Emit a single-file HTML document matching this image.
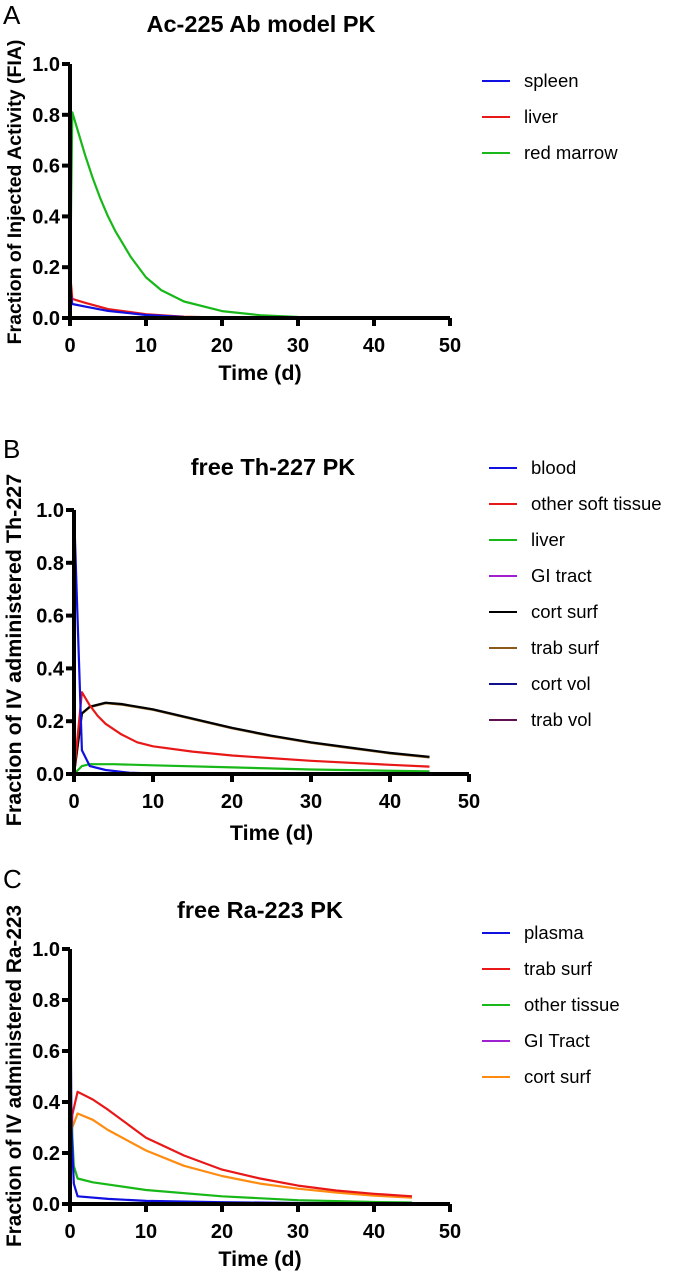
<!DOCTYPE html>
<html><head><meta charset="utf-8"><style>
html,body{margin:0;padding:0;background:#fff;}
svg{display:block;}
text{font-family:"Liberation Sans",Arial,sans-serif;}
.tk{font-weight:bold;font-size:20px;}
.ax{font-weight:bold;font-size:21.5px;}
.ttl{font-weight:bold;font-size:23.5px;}
.lg{font-size:18.5px;}
</style></head><body>
<svg id="fig" width="685" height="1272" viewBox="0 0 685 1272" xmlns="http://www.w3.org/2000/svg"></svg>
<script>
// ---- Panel A data ----
const aNames=["spleen","liver","red marrow"];
const aColors=["#1010e0","#e81818","#18b818"];
const aSpleenT=[0,0.3,2,5,10,15,20,30,42];
const aSpleenV=[0.12,0.055,0.045,0.028,0.012,0.004,0.001,0,0];
const aLiverT=[0,0.3,2,5,10,15,20,30,42];
const aLiverV=[0.18,0.075,0.06,0.035,0.015,0.005,0.002,0,0];
const aMarrowT=[0,0.15,0.3,1,2,3,4,5,6,8,10,12,15,20,25,30,40];
const aMarrowV=[0.05,0.45,0.81,0.74,0.64,0.55,0.47,0.40,0.34,0.24,0.16,0.11,0.065,0.027,0.011,0.004,0];
// ---- Panel B data ----
const bNames=["blood","other soft tissue","liver","GI tract","cort surf","trab surf","cort vol","trab vol"];
const bColors=["#1010e0","#e81818","#18b818","#a020d0","#000000","#8b5a1a","#10108a","#601050"];
const bBloodT=[0,1,2,4,7,10,45];
const bBloodV=[1.0,0.09,0.03,0.015,0.005,0.002,0];
const bSoftT=[0,1,2,3,4,6,8,10,15,20,30,40,45];
const bSoftV=[0,0.31,0.26,0.22,0.19,0.15,0.12,0.105,0.085,0.07,0.05,0.035,0.028];
const bLiverT=[0,1,2,5,10,20,30,45];
const bLiverV=[0,0.03,0.037,0.037,0.033,0.025,0.017,0.01];
const bGIT=[0,45];
const bGIV=[0.002,0.001];
const bCortSurfT=[0,1,2,4,6,10,15,20,25,30,35,40,45];
const bCortSurfV=[0,0.23,0.255,0.27,0.265,0.245,0.21,0.175,0.145,0.12,0.10,0.08,0.065];
const bTrabSurfT=[0,1,2,4,6,10,15,20,25,30,35,40,45];
const bTrabSurfV=[0,0.228,0.253,0.268,0.263,0.243,0.208,0.173,0.143,0.118,0.098,0.078,0.063];
const bCortVolT=[0,45];
const bCortVolV=[0.001,0.001];
const bTrabVolT=[0,45];
const bTrabVolV=[0.001,0.001];
// ---- Panel C data ----
const cNames=["plasma","trab surf","other tissue","GI Tract","cort surf"];
const cColors=["#1010e0","#e81818","#18b818","#a020d0","#ff8c10"];
const cPlasmaT=[0,0.2,0.5,1,5,10,20,30,45];
const cPlasmaV=[1.0,0.3,0.08,0.03,0.02,0.012,0.007,0.004,0.002];
const cTrabT=[0,0.3,1,3,5,10,15,20,25,30,35,40,45];
const cTrabV=[0,0.35,0.44,0.41,0.37,0.26,0.19,0.135,0.1,0.072,0.053,0.04,0.03];
const cOtherT=[0,0.2,0.5,1,3,10,20,30,40,45];
const cOtherV=[0,0.33,0.15,0.1,0.085,0.055,0.03,0.015,0.008,0.006];
const cGIT=[0,45];
const cGIV=[0.003,0.003];
const cCortT=[0,0.3,1,3,5,10,15,20,25,30,35,40,45];
const cCortV=[0,0.3,0.355,0.33,0.29,0.21,0.15,0.11,0.08,0.06,0.045,0.033,0.025];
const xTicks=[0,10,20,30,40,50];
const yTicks=[0,0.2,0.4,0.6,0.8,1.0];

const NS="http://www.w3.org/2000/svg";
const svg=document.getElementById('fig');
function mk(tag,attrs,parent){const e=document.createElementNS(NS,tag);for(const k in attrs)e.setAttribute(k,attrs[k]);(parent||svg).appendChild(e);return e;}

function panel(p){
  const g=mk('g',{});
  
  
  const sx=v=>p.x0+(v/50)*(p.x1-p.x0);
  const sy=v=>p.y0-(v/1)*(p.y0-p.y1);
  const L=mk('text',{x:p.letterX,y:p.letterY,'font-size':'26'},g);L.textContent=p.letter;
  
  
  const T=mk('text',{x:p.titleX,y:p.titleY,'text-anchor':'middle',class:'ttl'},g);T.textContent=p.title;
  
  
  p.series.forEach((s,i)=>{
    const d=s.t.map((t,j)=>(j?'L':'M')+sx(t).toFixed(1)+','+sy(s.v[j]).toFixed(1)).join(' ');
    const path=mk('path',{d:d,fill:'none',stroke:s.c,'stroke-width':'2.2','stroke-linejoin':'round'},g);
    
    
  });
  const ax=mk('path',{d:`M${p.x0},${p.y1} L${p.x0},${p.y0} L${p.x1},${p.y0}`,fill:'none',stroke:'#000','stroke-width':'4'},g);
  
  
  xTicks.forEach(v=>{
    mk('line',{x1:sx(v),x2:sx(v),y1:p.y0,y2:p.y0+8,stroke:'#000','stroke-width':'4'},g);
    const t=mk('text',{x:sx(v),y:p.y0+34,'text-anchor':'middle',class:'tk'},g);t.textContent=v;
    
    
  });
  yTicks.forEach(v=>{
    mk('line',{x1:p.x0-8,x2:p.x0,y1:sy(v),y2:sy(v),stroke:'#000','stroke-width':'4'},g);
    const t=mk('text',{x:p.x0-10,y:sy(v)+7,'text-anchor':'end',class:'tk'},g);t.textContent=v.toFixed(1);
    
    
  });
  const xt=mk('text',{x:(p.x0+p.x1)/2,y:p.xtY,'text-anchor':'middle',class:'ax'},g);xt.textContent='Time (d)';
  
  
  const yt=mk('text',{x:0,y:0,'text-anchor':'middle',class:'ax','font-size':p.ytSize,style:'font-size:'+p.ytSize+'px',transform:`translate(21,${p.ytY}) rotate(-90)`},g);yt.textContent=p.ytitle;
  
  
  p.names.forEach((n,i)=>{
    const y=p.legY+i*36;
    const lg=mk('g',{},g);
    
    
    mk('line',{x1:p.legX,x2:p.legX+28,y1:y,y2:y,stroke:p.colors[i],'stroke-width':'2'},lg);
    const t=mk('text',{x:p.legX+42,y:y+6,class:'lg'},lg);t.textContent=n;
  });
}
panel({id:'a',letter:'A',letterX:3,letterY:24,title:'Ac-225 Ab model PK',titleX:261,titleY:32,
  x0:70,x1:450,y0:318,y1:64,xtY:380,ytY:192,ytSize:19.5,ytitle:'Fraction of Injected Activity (FIA)',
  legX:482,legY:81,names:aNames,colors:aColors,
  series:[{t:aMarrowT,v:aMarrowV,c:aColors[2],n:aNames[2]},{t:aLiverT,v:aLiverV,c:aColors[1],n:aNames[1]},{t:aSpleenT,v:aSpleenV,c:aColors[0],n:aNames[0]}]});
panel({id:'b',letter:'B',letterX:3,letterY:458,title:'free Th-227 PK',titleX:273,titleY:475,
  x0:74,x1:469,y0:774,y1:510,xtY:840,ytY:650,ytSize:21.5,ytitle:'Fraction of IV administered Th-227',
  legX:489,legY:468,names:bNames,colors:bColors,
  series:[{t:bTrabSurfT,v:bTrabSurfV,c:bColors[5],n:bNames[5]},{t:bCortSurfT,v:bCortSurfV,c:bColors[4],n:bNames[4]},
          {t:bSoftT,v:bSoftV,c:bColors[1],n:bNames[1]},{t:bLiverT,v:bLiverV,c:bColors[2],n:bNames[2]},
          {t:bGIT,v:bGIV,c:bColors[3],n:bNames[3]},{t:bCortVolT,v:bCortVolV,c:bColors[6],n:bNames[6]},
          {t:bTrabVolT,v:bTrabVolV,c:bColors[7],n:bNames[7]},{t:bBloodT,v:bBloodV,c:bColors[0],n:bNames[0]}]});
panel({id:'c',letter:'C',letterX:3,letterY:888,title:'free Ra-223 PK',titleX:260,titleY:918,
  x0:70,x1:450,y0:1204,y1:949,xtY:1266,ytY:1076,ytSize:20.8,ytitle:'Fraction of IV administered Ra-223',
  legX:482,legY:933,names:cNames,colors:cColors,
  series:[{t:cCortT,v:cCortV,c:cColors[4],n:cNames[4]},{t:cTrabT,v:cTrabV,c:cColors[1],n:cNames[1]},
          {t:cOtherT,v:cOtherV,c:cColors[2],n:cNames[2]},{t:cGIT,v:cGIV,c:cColors[3],n:cNames[3]},
          {t:cPlasmaT,v:cPlasmaV,c:cColors[0],n:cNames[0]}]});
</script>
</body></html>
